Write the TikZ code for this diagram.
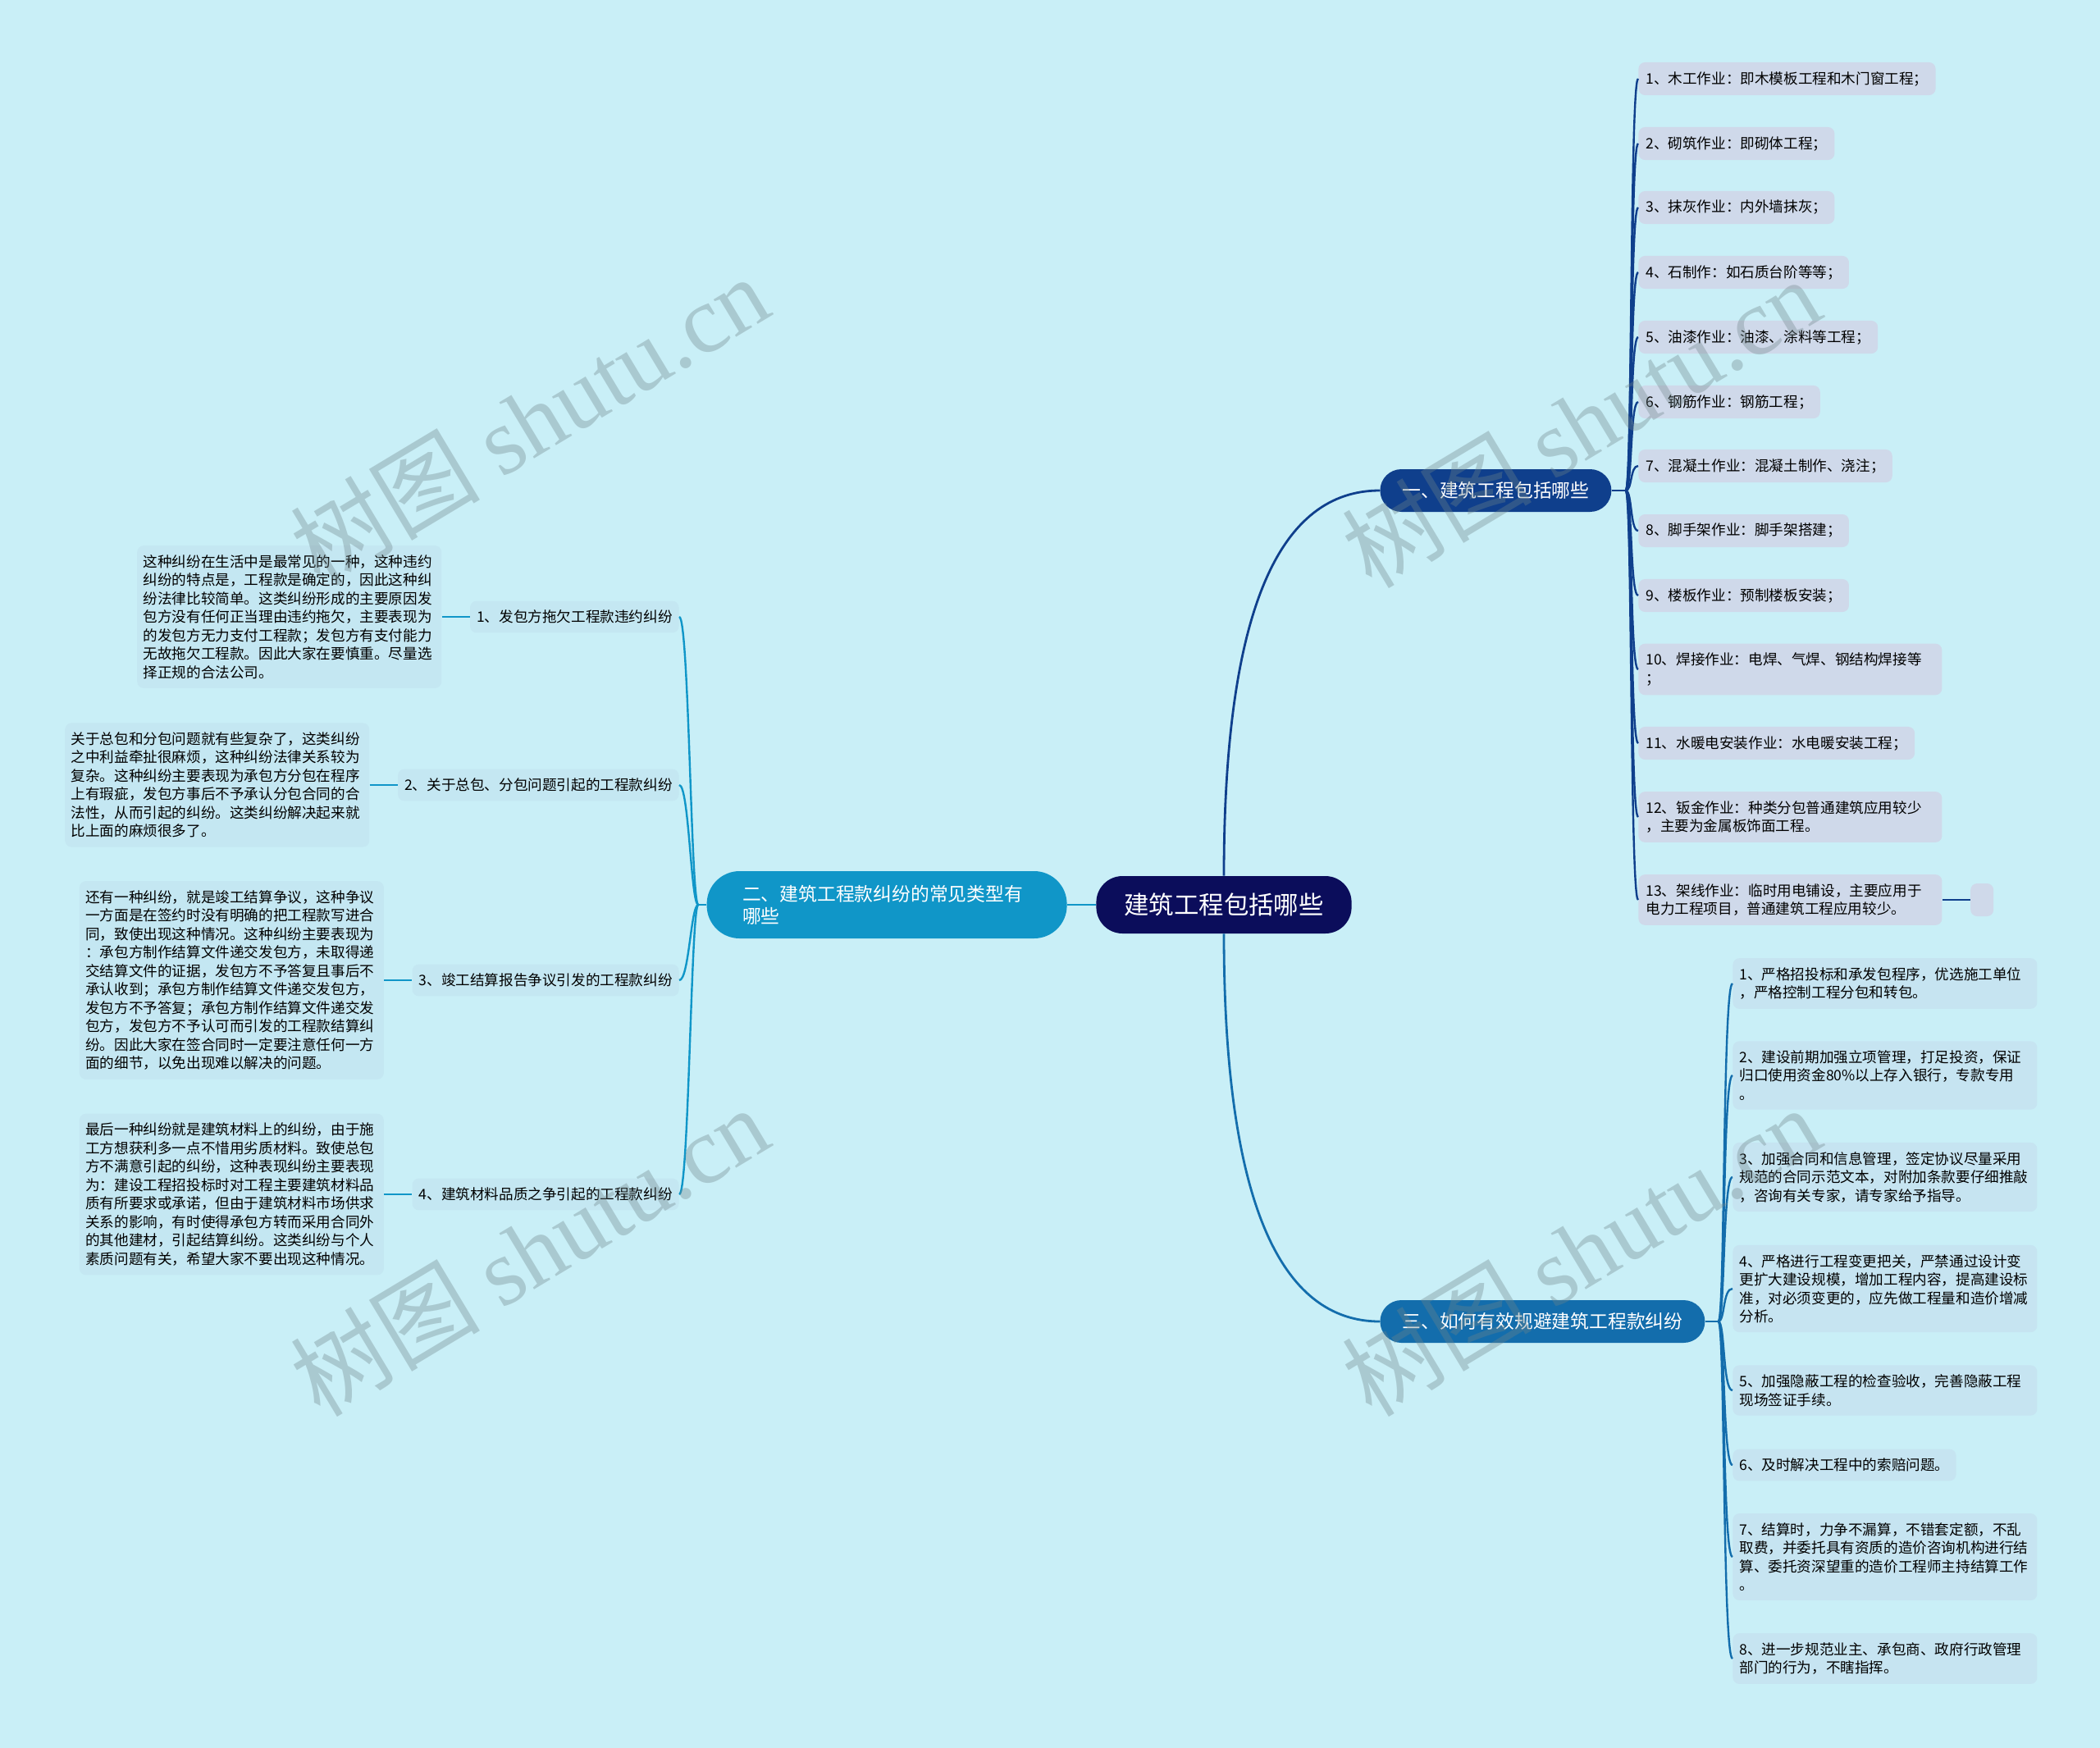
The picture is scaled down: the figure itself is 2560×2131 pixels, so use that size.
\documentclass[tikz,border=0pt]{standalone}
\usepackage{fontspec}
\setmainfont{Noto Sans CJK SC}
\newfontfamily\wmlatin{Liberation Serif}
\usetikzlibrary{positioning}

\definecolor{bgcol}{HTML}{C9EFF7}
\definecolor{rootcol}{HTML}{0B0D5B}
\definecolor{onecol}{HTML}{0F3F8C}
\definecolor{twocol}{HTML}{1096C8}
\definecolor{threecol}{HTML}{136DAC}
\definecolor{itemcol}{HTML}{CFD9EA}
\definecolor{leafcol}{HTML}{C6E4F1}
\definecolor{notecol}{HTML}{C4E7F2}
\definecolor{wmcol}{HTML}{6F8489}

\newcommand\leaffont{\fontsize{8.8}{11.25}\selectfont}
\newcommand\topicfont{\fontsize{11.4}{13.5}\selectfont}

\tikzset{
  box/.style={rounded corners=4pt, inner xsep=4.5pt, inner ysep=5.6pt, font=\leaffont, align=left},
  item/.style={box, fill=itemcol, anchor=west},
  itemw/.style={item, text width=176pt},
  leaf/.style={box, fill=leafcol, anchor=west, inner xsep=4pt, text width=177.5pt},
  leafs/.style={box, fill=leafcol, anchor=west, inner xsep=4pt},
  sub/.style={box, fill=notecol, anchor=east, inner xsep=4pt},
  note/.style={box, fill=notecol, inner xsep=3.75pt, text width=178pt},
  topic/.style={text=white, font=\topicfont, minimum height=26pt, inner xsep=13.5pt, rounded corners=13pt, anchor=west},
  rootbox/.style={fill=rootcol, text=white, font=\fontsize{15.2}{18}\selectfont, minimum height=35pt, inner xsep=17pt, rounded corners=16pt},
  linkone/.style={draw=onecol, line width=1.2pt},
  linktwo/.style={draw=twocol, line width=1.2pt},
  linkthree/.style={draw=threecol, line width=1.2pt},
  wm/.style={text=wmcol, text opacity=0.35, font=\fontsize{58}{58}\selectfont, rotate=31}
}

\begin{document}
\begin{tikzpicture}[x=0.5pt,y=-0.5pt]
\fill[bgcol] (0,0) rectangle (2560,2131);
\useasboundingbox (0,0) rectangle (2560,2131);

\node[rootbox] (root) at (1492,1103) {建筑工程包括哪些};
\node[topic, fill=onecol] (b1) at (1682,598) {一、建筑工程包括哪些};
\node[topic, fill=threecol] (b3) at (1682,1611) {三、如何有效规避建筑工程款纠纷};
\node[topic, fill=twocol, anchor=east, text width=176pt, align=left, inner xsep=21.75pt,
      minimum height=41pt, rounded corners=20pt] (b2) at (1301,1103) {二、建筑工程款纠纷的常见类型有\\哪些};

\draw[linkone, line width=1.4pt] (root.north) .. controls +(0,-330) and +(-120,0) .. (b1.west);
\draw[linkthree, line width=1.4pt] (root.south) .. controls +(0,330) and +(-120,0) .. (b3.west);
\draw[linktwo, line width=1.4pt] (root) -- (b2);

\coordinate[right=8.5pt of b1] (t1);
\coordinate[right=8pt of b3] (t3);
\coordinate[left=5pt of b2] (t2);
\draw[linkone] (b1) -- (t1);
\draw[linkthree] (b3) -- (t3);
\draw[linktwo] (b2) -- (t2);

\foreach \y/\s/\txt [count=\i] in {
  96/item/{1、木工作业：即木模板工程和木门窗工程；},
  175/item/{2、砌筑作业：即砌体工程；},
  253/item/{3、抹灰作业：内外墙抹灰；},
  332/item/{4、石制作：如石质台阶等等；},
  411/item/{5、油漆作业：油漆、涂料等工程；},
  490/item/{6、钢筋作业：钢筋工程；},
  568/item/{7、混凝土作业：混凝土制作、浇注；},
  647/item/{8、脚手架作业：脚手架搭建；},
  726/item/{9、楼板作业：预制楼板安装；},
  816/itemw/{10、焊接作业：电焊、气焊、钢结构焊接等\\；},
  906/item/{11、水暖电安装作业：水电暖安装工程；},
  996/itemw/{12、钣金作业：种类分包普通建筑应用较少\\，主要为金属板饰面工程。},
  1097/itemw/{13、架线作业：临时用电铺设，主要应用于\\电力工程项目，普通建筑工程应用较少。}}{
  \node[\s] (a\i) at (1997,\y) {\txt};
  \draw[linkone] (t1) .. controls +(8,0) and +(-10,0) .. (a\i.west);
}
\node[item, minimum width=14pt, minimum height=20pt, inner sep=0pt, right=17pt of a13] (a13x) {};
\draw[linkone] (a13) -- (a13x);

\foreach \y/\s/\txt [count=\i] in {
  1199/leaf/{1、严格招投标和承发包程序，优选施工单位\\，严格控制工程分包和转包。},
  1311/leaf/{2、建设前期加强立项管理，打足投资，保证\\归口使用资金80\%以上存入银行，专款专用\\。},
  1435/leaf/{3、加强合同和信息管理，签定协议尽量采用\\规范的合同示范文本，对附加条款要仔细推敲\\，咨询有关专家，请专家给予指导。},
  1571/leaf/{4、严格进行工程变更把关，严禁通过设计变\\更扩大建设规模，增加工程内容，提高建设标\\准，对必须变更的，应先做工程量和造价增减\\分析。},
  1695/leaf/{5、加强隐蔽工程的检查验收，完善隐蔽工程\\现场签证手续。},
  1786/leafs/{6、及时解决工程中的索赔问题。},
  1898/leaf/{7、结算时，力争不漏算，不错套定额，不乱\\取费，并委托具有资质的造价咨询机构进行结\\算、委托资深望重的造价工程师主持结算工作\\。},
  2022/leaf/{8、进一步规范业主、承包商、政府行政管理\\部门的行为，不瞎指挥。}}{
  \node[\s] (c\i) at (2112,\y) {\txt};
  \draw[linkthree] (t3) .. controls +(8,0) and +(-12,0) .. (c\i.west);
}

\node[sub] (s1) at (828,752) {1、发包方拖欠工程款违约纠纷};
\node[sub] (s2) at (828,957) {2、关于总包、分包问题引起的工程款纠纷};
\node[sub] (s3) at (828,1195) {3、竣工结算报告争议引发的工程款纠纷};
\node[sub] (s4) at (828,1456) {4、建筑材料品质之争引起的工程款纠纷};
\foreach \i in {1,...,4}
  \draw[linktwo] (t2) .. controls +(-9,0) and +(12,0) .. (s\i.east);

\node[note, left=17pt of s1] (n1) {这种纠纷在生活中是最常见的一种，这种违约\\纠纷的特点是，工程款是确定的，因此这种纠\\纷法律比较简单。这类纠纷形成的主要原因发\\包方没有任何正当理由违约拖欠，主要表现为\\的发包方无力支付工程款；发包方有支付能力\\无故拖欠工程款。因此大家在要慎重。尽量选\\择正规的合法公司。};
\node[note, left=17pt of s2] (n2) {关于总包和分包问题就有些复杂了，这类纠纷\\之中利益牵扯很麻烦，这种纠纷法律关系较为\\复杂。这种纠纷主要表现为承包方分包在程序\\上有瑕疵，发包方事后不予承认分包合同的合\\法性，从而引起的纠纷。这类纠纷解决起来就\\比上面的麻烦很多了。};
\node[note, left=17pt of s3] (n3) {还有一种纠纷，就是竣工结算争议，这种争议\\一方面是在签约时没有明确的把工程款写进合\\同，致使出现这种情况。这种纠纷主要表现为\\：承包方制作结算文件递交发包方，未取得递\\交结算文件的证据，发包方不予答复且事后不\\承认收到；承包方制作结算文件递交发包方，\\发包方不予答复；承包方制作结算文件递交发\\包方，发包方不予认可而引发的工程款结算纠\\纷。因此大家在签合同时一定要注意任何一方\\面的细节，以免出现难以解决的问题。};
\node[note, left=17pt of s4] (n4) {最后一种纠纷就是建筑材料上的纠纷，由于施\\工方想获利多一点不惜用劣质材料。致使总包\\方不满意引起的纠纷，这种表现纠纷主要表现\\为：建设工程招投标时对工程主要建筑材料品\\质有所要求或承诺，但由于建筑材料市场供求\\关系的影响，有时使得承包方转而采用合同外\\的其他建材，引起结算纠纷。这类纠纷与个人\\素质问题有关，希望大家不要出现这种情况。};
\foreach \i in {1,...,4}
  \draw[linktwo] (n\i) -- (s\i);

\foreach \x/\y [count=\i] in {645/512, 645/1525, 1927/515, 1927/1525}
  \node[wm] (w\i) at (\x,\y) {树图 {\wmlatin shutu.cn}};
\end{tikzpicture}
\end{document}
